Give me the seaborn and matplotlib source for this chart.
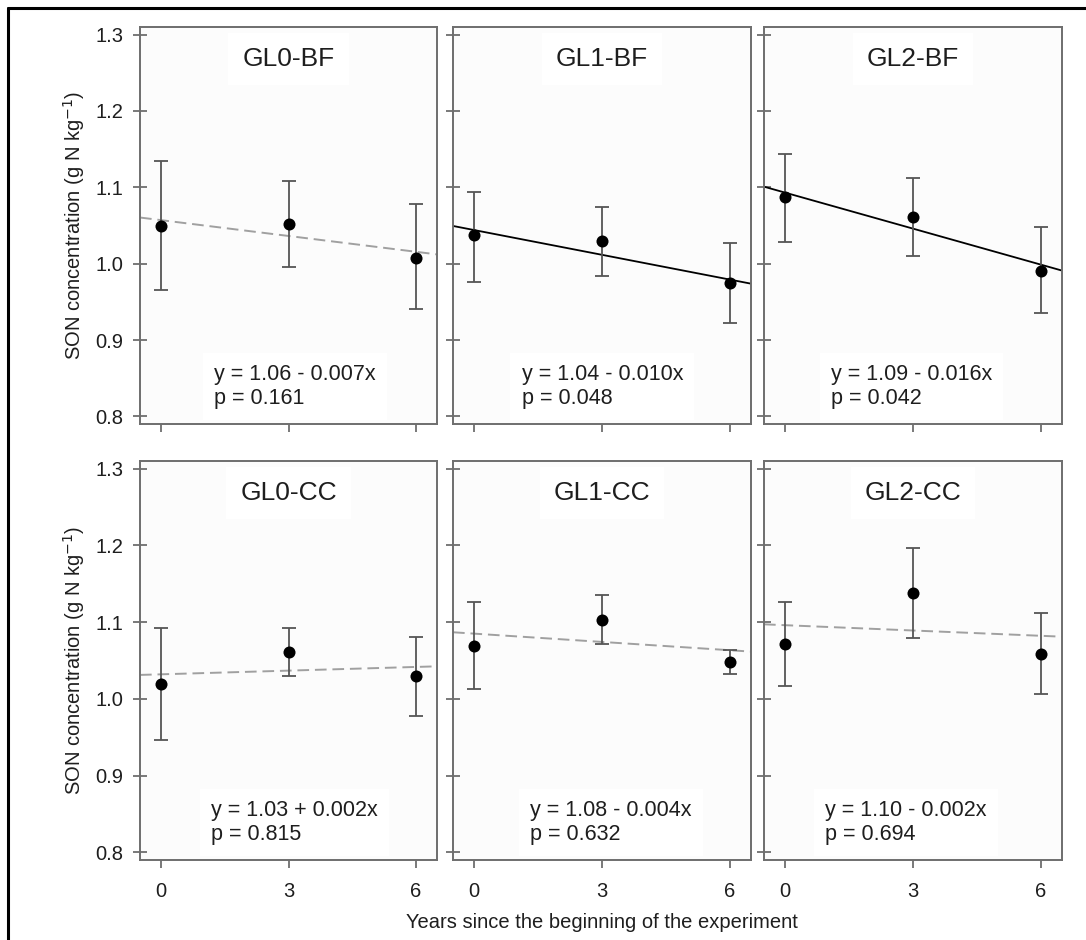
import numpy as np
import pandas as pd
import matplotlib
matplotlib.use("Agg")
import matplotlib.pyplot as plt
import seaborn as sns
from matplotlib.lines import Line2D

# data
years = [0, 3, 6]
panels = ["GL0-BF", "GL1-BF", "GL2-BF", "GL0-CC", "GL1-CC", "GL2-CC"]
means = [
    [1.050, 1.052, 1.008],
    [1.037, 1.030, 0.975],
    [1.087, 1.061, 0.991],
    [1.020, 1.061, 1.030],
    [1.069, 1.103, 1.048],
    [1.071, 1.138, 1.058],
]
upper = [
    [1.135, 1.108, 1.078],
    [1.094, 1.074, 1.027],
    [1.144, 1.112, 1.048],
    [1.093, 1.092, 1.081],
    [1.126, 1.135, 1.064],
    [1.126, 1.196, 1.112],
]
lower = [
    [0.966, 0.995, 0.940],
    [0.976, 0.984, 0.922],
    [1.028, 1.010, 0.935],
    [0.947, 1.030, 0.978],
    [1.013, 1.072, 1.033],
    [1.017, 1.079, 1.006],
]
intercepts = [1.057, 1.044, 1.093, 1.032, 1.085, 1.096]
slopes = [-0.0069, -0.0108, -0.0157, 0.0016, -0.0036, -0.0023]
significant = [False, True, True, False, False, False]
equations = ["y = 1.06 - 0.007x", "y = 1.04 - 0.010x", "y = 1.09 - 0.016x",
             "y = 1.03 + 0.002x", "y = 1.08 - 0.004x", "y = 1.10 - 0.002x"]
pvalues = ["p = 0.161", "p = 0.048", "p = 0.042",
           "p = 0.815", "p = 0.632", "p = 0.694"]
yticks = [0.8, 0.9, 1.0, 1.1, 1.2, 1.3]

sns.set_theme(style="ticks")
plt.rcParams["font.family"] = ["Liberation Sans", "DejaVu Sans"]

fig = plt.figure(figsize=(10.86, 9.4), dpi=100)

W, H = 1086, 940
col_px = [(140, 437), (453, 751), (764, 1062)]
row_px = [(27, 424), (461, 860)]
eq_x = [0.25, 0.23, 0.225, 0.24, 0.26, 0.205]

spine_col = "#6e6e6e"
text_col = "#1e1e1e"

for i, name in enumerate(panels):
    r, c = divmod(i, 3)
    x0, x1 = col_px[c]
    y0, y1 = row_px[r]
    ax = fig.add_axes([x0 / W, (H - y1) / H, (x1 - x0) / W, (y1 - y0) / H])
    ax.set_facecolor("#fcfcfc")

    df = pd.DataFrame({"year": years, "son": means[i],
                       "lo": lower[i], "hi": upper[i]})

    # regression line across the panel
    xl = np.array([-0.5, 6.5])
    fit = pd.DataFrame({"x": xl, "y": intercepts[i] + slopes[i] * xl})
    if significant[i]:
        sns.lineplot(data=fit, x="x", y="y", ax=ax, color="black", lw=1.3)
    else:
        sns.lineplot(data=fit, x="x", y="y", ax=ax, color="#a0a0a0", lw=1.4,
                     dashes=False, linestyle=(0, (6, 3)))

    ax.errorbar(df["year"], df["son"],
                yerr=[df["son"] - df["lo"], df["hi"] - df["son"]],
                fmt="none", ecolor="#555555", elinewidth=1.3, capsize=5,
                capthick=1.3, zorder=3)
    sns.scatterplot(data=df, x="year", y="son", ax=ax, color="black",
                    s=75, edgecolor="black", linewidth=0, zorder=4)

    ax.set_xlim(-0.5, 6.5)
    ax.set_ylim(0.79, 1.31)
    ax.set_xticks(years)
    ax.set_yticks(yticks)
    ax.set_xlabel("")
    ax.set_ylabel("")

    for sp in ax.spines.values():
        sp.set_color(spine_col)
        sp.set_linewidth(1.4)
    ax.tick_params(axis="y", direction="inout", length=10, width=1.3,
                   color=spine_col, labelsize=14.5, labelcolor=text_col, pad=7)
    ax.tick_params(axis="x", direction="out", length=6, width=1.3,
                   color=spine_col, labelsize=14.5, labelcolor=text_col, pad=10)
    if c > 0:
        ax.tick_params(axis="y", labelleft=False)
    else:
        ax.set_yticklabels([f"{v:.1f}" for v in yticks])
        ax.set_ylabel("SON concentration (g N kg$^{-1}$)", fontsize=14.5,
                      color=text_col, labelpad=6)
    if r == 0:
        ax.tick_params(axis="x", labelbottom=False)

    ax.text(0.5, 0.92, name, transform=ax.transAxes, ha="center",
            va="center", fontsize=19, color=text_col,
            bbox=dict(facecolor="white", edgecolor="none", pad=10))
    ax.text(eq_x[i], 0.094, equations[i] + "\n" + pvalues[i],
            transform=ax.transAxes, ha="left", va="center", fontsize=15.5,
            color=text_col, linespacing=1.15,
            bbox=dict(facecolor="white", edgecolor="none", pad=8))

fig.text(602 / W, 1 - 923 / H, "Years since the beginning of the experiment",
         ha="center", va="center", fontsize=14.5, color=text_col)

# outer frame (only left and top edge are inside the picture)
fig.add_artist(Line2D([8 / W, 8 / W], [0, 1 - 8 / H], transform=fig.transFigure,
                      color="black", lw=2.2))
fig.add_artist(Line2D([8 / W, 1], [1 - 8 / H, 1 - 8 / H],
                      transform=fig.transFigure, color="black", lw=2.2))

fig.savefig("out.png", dpi=100)
